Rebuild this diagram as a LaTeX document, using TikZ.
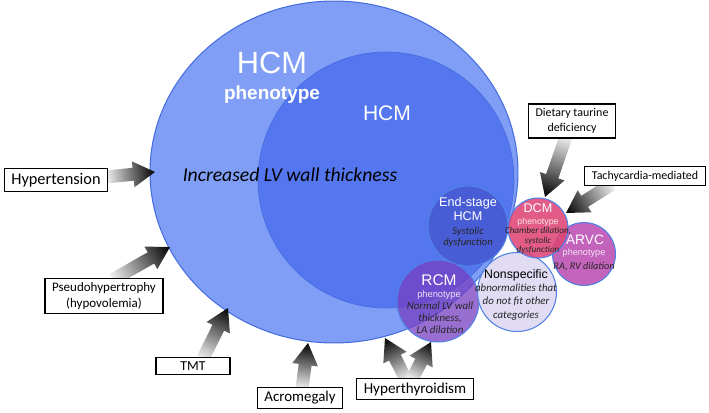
\documentclass[tikz,border=0pt]{standalone}
\usepackage{fontspec}
\setmainfont{Carlito}
\newfontfamily\arialfont{Liberation Sans}
\usetikzlibrary{shapes.geometric,calc}

\definecolor{phenoBlue}{RGB}{128,158,245}
\definecolor{coreBlue}{RGB}{84,118,238}
\definecolor{edgeBlue}{RGB}{70,110,225}
\definecolor{endStage}{RGB}{72,92,214}
\definecolor{dcmPink}{RGB}{222,70,118}
\definecolor{arvcMag}{RGB}{190,82,180}
\definecolor{nonspecLav}{RGB}{222,216,242}
\definecolor{rcmPurple}{RGB}{118,62,194}
\definecolor{bubbleEdge}{RGB}{80,130,230}

\pgfdeclarelayer{arrowlayer}
\pgfdeclarelayer{boxlayer}
\pgfsetlayers{main,arrowlayer,boxlayer}

\tikzset{
  cause/.style={draw, line width=0.7pt, fill=white, inner xsep=4pt, inner ysep=2.5pt, align=center},
  bubble/.style={circle, draw=bubbleEdge, line width=0.6pt, inner sep=0pt},
  wlabel/.style={text=white, inner sep=0pt, align=center},
  ilabel/.style={text=black!85, inner sep=0pt, align=center},
  arrowshade/.style={left color=black!6, middle color=black!62, right color=black},
}

% shaded block arrow: #1 tail, #2 tip
\newdimen\arrdx
\newdimen\arrdy
\newcommand{\fatarrow}[2]{%
  \pgfextractx{\arrdx}{\pgfpointdiff{\pgfpointanchor{#1}{center}}{\pgfpointanchor{#2}{center}}}%
  \pgfextracty{\arrdy}{\pgfpointdiff{\pgfpointanchor{#1}{center}}{\pgfpointanchor{#2}{center}}}%
  \pgfmathsetmacro{\arrlen}{veclen(\arrdx,\arrdy)}%
  \pgfmathsetmacro{\arrang}{atan2(\arrdy,\arrdx)}%
  \pgfmathsetmacro{\arrhb}{\arrlen-12.5}%
  \begin{scope}[transform canvas={shift={(#1)}, rotate=\arrang}]
    \shade[arrowshade] (0pt,-3.7pt) -- (\arrhb pt,-3.7pt) -- (\arrhb pt,-7.4pt)
      -- (\arrlen pt,0pt) -- (\arrhb pt,7.4pt) -- (\arrhb pt,3.7pt) -- (0pt,3.7pt) -- cycle;
  \end{scope}
}

\begin{document}
\begin{tikzpicture}[x=0.02cm, y=-0.02cm]
\useasboundingbox (0,0) rectangle (709,412);

% big circles
\node[ellipse, fill=phenoBlue, draw=edgeBlue, line width=0.6pt, minimum width=7.36cm, minimum height=6.84cm, inner sep=0pt] (pheno) at (334,172) {};
\node[circle, fill=coreBlue, draw=edgeBlue, line width=0.4pt, minimum size=5.12cm, inner sep=0pt] (core) at (386,180) {};

\node[wlabel, font=\arialfont\fontsize{17.5}{20}\selectfont] (phenoHCM) at (272,63) {HCM};
\node[wlabel, font=\arialfont\bfseries\fontsize{10.8}{13}\selectfont] (phenoTxt) at (272,95) {phenotype};
\node[wlabel, font=\arialfont\fontsize{12}{14}\selectfont] (coreHCM) at (387,113) {HCM};
\node[inner sep=0pt, font=\itshape\fontsize{11.2}{13}\selectfont] (lvwall) at (290,175) {Increased LV wall thickness};

% small circles
\node[bubble, fill=endStage, minimum size=1.6cm] (endst) at (468,226) {};
\node[wlabel, font=\arialfont\fontsize{7.2}{8.2}\selectfont] (endstTxt) at (468,209) {End-stage\\HCM};
\node[ilabel, font=\itshape\fontsize{6}{6}\selectfont] (endstSub) at (468,237) {Systolic\\dysfunction};

\node[bubble, fill=rcmPurple, fill opacity=0.75, minimum size=1.64cm] (rcm) at (438,301) {};
\node[wlabel, font=\arialfont\fontsize{8.8}{10}\selectfont] (rcmTxt) at (439,280) {RCM};
\node[wlabel, text=white!85!rcmPurple, font=\arialfont\fontsize{5.3}{6}\selectfont] (rcmPh) at (439,295) {phenotype};
\node[ilabel, font=\itshape\fontsize{6.2}{6.9}\selectfont] (rcmSub) at (440,318) {Normal LV wall\\thickness,\\LA dilation};

\node[bubble, fill=nonspecLav, fill opacity=0.92, minimum size=1.58cm] (nonsp) at (517,292) {};
\node[inner sep=0pt, font=\arialfont\fontsize{7}{8}\selectfont] (nonspTxt) at (516,275) {Nonspecific};
\node[ilabel, font=\itshape\fontsize{6.2}{7.6}\selectfont] (nonspSub) at (516,302) {abnormalities that\\do not fit other\\categories};

\node[bubble, fill=arvcMag, fill opacity=0.9, minimum size=1.26cm] (arvc) at (584,254) {};
\node[wlabel, font=\arialfont\fontsize{7.8}{9}\selectfont] (arvcTxt) at (585,240) {ARVC};
\node[wlabel, text=white!85!arvcMag, font=\arialfont\fontsize{5.2}{6}\selectfont] (arvcPh) at (584,253) {phenotype};
\node[ilabel, font=\itshape\fontsize{5.8}{6}\selectfont] (arvcSub) at (584,267) {RA, RV dilation};

\node[bubble, fill=dcmPink, fill opacity=0.88, minimum size=1.2cm] (dcm) at (538,228) {};
\node[wlabel, font=\arialfont\fontsize{7.2}{8}\selectfont] (dcmTxt) at (538,208) {DCM};
\node[wlabel, text=white!85!dcmPink, font=\arialfont\fontsize{5}{5.5}\selectfont] (dcmPh) at (538,222) {phenotype};
\node[ilabel, font=\itshape\fontsize{5.2}{5.4}\selectfont] (dcmSub) at (538,241) {Chamber dilation,\\systolic\\dysfunction};

% cause boxes
\begin{pgfonlayer}{boxlayer}
\node[cause, font=\fontsize{9.3}{11}\selectfont] (hyp) at (56,180) {Hypertension};
\node[cause, font=\fontsize{7.4}{9}\selectfont] (pseudo) at (104,296) {Pseudohypertrophy\\(hypovolemia)};
\node[cause, font=\fontsize{7.8}{9}\selectfont, minimum width=1.48cm] (tmt) at (193,366) {TMT};
\node[cause, font=\fontsize{8.5}{10}\selectfont] (acro) at (300,398) {Acromegaly};
\node[cause, font=\fontsize{8.6}{10}\selectfont] (hyper) at (415,389) {Hyperthyroidism};
\node[cause, font=\fontsize{6.8}{8.5}\selectfont] (diet) at (572,121) {Dietary taurine\\deficiency};
\node[cause, font=\fontsize{6.8}{8}\selectfont] (tachy) at (645,176) {Tachycardia-mediated};
\end{pgfonlayer}

% arrows
\coordinate (hypTip) at (155,172);
\coordinate (pseudoTip) at (170,247);
\coordinate (tmtTip) at (228,308);
\coordinate (acroTip) at (308,343);
\coordinate (hyperTipA) at (385,338);
\coordinate (hyperTipB) at (431,342);
\coordinate (dietTip) at (545,197);
\coordinate (tachyTip) at (566,213);

\coordinate (hypTail) at ($(hyp.east)+(-2,-3)$);
\coordinate (pseudoTail) at ($(pseudo.north)+(9,2)$);
\coordinate (tmtTail) at ($(tmt.north)+(10,2)$);
\coordinate (acroTail) at ($(acro.north)+(2,2)$);
\coordinate (hyperTailA) at ($(hyper.north)+(-9,2)$);
\coordinate (hyperTailB) at ($(hyper.north)+(-3,2)$);
\coordinate (dietTail) at ($(diet.south)+(-6,-2)$);
\coordinate (tachyTail) at ($(tachy.south)+(-33,-2)$);

\begin{pgfonlayer}{arrowlayer}
\fatarrow{hypTail}{hypTip}
\fatarrow{pseudoTail}{pseudoTip}
\fatarrow{tmtTail}{tmtTip}
\fatarrow{acroTail}{acroTip}
\fatarrow{hyperTailA}{hyperTipA}
\fatarrow{hyperTailB}{hyperTipB}
\fatarrow{dietTail}{dietTip}
\fatarrow{tachyTail}{tachyTip}
\end{pgfonlayer}
\end{tikzpicture}
\end{document}
